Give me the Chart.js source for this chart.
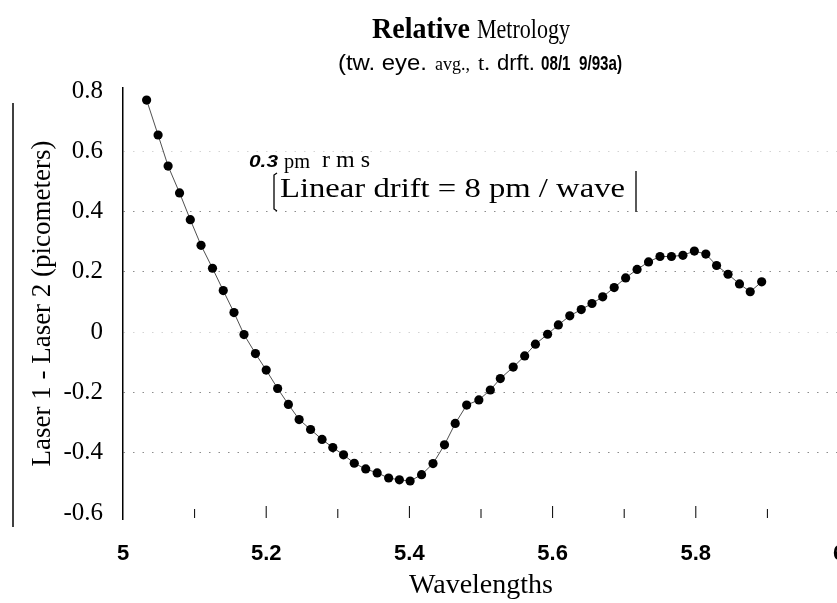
<!DOCTYPE html>
<html>
<head>
<meta charset="utf-8">
<title>Relative Metrology</title>
<script src="https://cdn.jsdelivr.net/npm/chart.js@4.4.0/dist/chart.umd.min.js"></script>
<style>
  html, body { margin: 0; padding: 0; background: #fff; overflow: hidden; }
  #wrap { position: absolute; left: 0; top: 0; width: 845px; height: 603px; }
</style>
</head>
<body>
<div id="wrap"><canvas id="chart"></canvas></div>
<script>
// wavelengths (x) and Laser 1 - Laser 2 difference in picometers (y)
var wavelengths = [
  5.033, 5.049, 5.063, 5.079, 5.094, 5.109, 5.125, 5.140, 5.155, 5.169,
  5.185, 5.200, 5.216, 5.231, 5.246, 5.262, 5.278, 5.293, 5.308, 5.323,
  5.339, 5.355, 5.371, 5.386, 5.401, 5.417, 5.433, 5.449, 5.464, 5.480,
  5.497, 5.513, 5.527, 5.545, 5.561, 5.576, 5.593, 5.608, 5.624, 5.640,
  5.655, 5.670, 5.686, 5.702, 5.718, 5.734, 5.750, 5.766, 5.782, 5.798,
  5.814, 5.829, 5.845, 5.861, 5.876, 5.892
];
var laserDiff = [
  0.770, 0.654, 0.551, 0.462, 0.373, 0.288, 0.212, 0.138, 0.065, -0.008,
  -0.071, -0.126, -0.187, -0.240, -0.290, -0.323, -0.356, -0.383, -0.407, -0.435,
  -0.454, -0.467, -0.484, -0.490, -0.494, -0.473, -0.436, -0.374, -0.303, -0.242,
  -0.225, -0.192, -0.154, -0.116, -0.079, -0.040, -0.007, 0.024, 0.054, 0.075,
  0.095, 0.117, 0.148, 0.180, 0.208, 0.233, 0.251, 0.251, 0.255, 0.269,
  0.259, 0.221, 0.192, 0.160, 0.134, 0.167
];
var yTickValues = [-0.6, -0.4, -0.2, 0, 0.2, 0.4, 0.6, 0.8];
var yTickLabels = ['-0.6', '-0.4', '-0.2', '0', '0.2', '0.4', '0.6', '0.8'];
var xTickValues = [5, 5.1, 5.2, 5.3, 5.4, 5.5, 5.6, 5.7, 5.8, 5.9, 6];
var xTickLabels = ['5', '', '5.2', '', '5.4', '', '5.6', '', '5.8', '', '6'];

var SERIF = "'Liberation Serif', 'Times New Roman', serif";
var SANS = "'Liberation Sans', Arial, sans-serif";
var NARROW = "'Liberation Sans Narrow', 'Liberation Sans', Arial, sans-serif";

var points = wavelengths.map(function (w, i) { return { x: w, y: laserDiff[i] }; });

// draw a text run squeezed/stretched to the width it has in the scan
function fitText(ctx, text, font, x, y, w) {
  ctx.save();
  ctx.font = font;
  ctx.textBaseline = 'middle';
  ctx.textAlign = 'left';
  var m = ctx.measureText(text).width;
  ctx.translate(x, y);
  ctx.scale(w / m, 1);
  ctx.fillStyle = '#000';
  ctx.fillText(text, 0, 0);
  ctx.restore();
}

var decorations = {
  id: 'decorations',
  afterDraw: function (chart) {
    var ctx = chart.ctx;
    var xs = chart.scales.x;
    var area = chart.chartArea;

    /* titles */
    fitText(ctx, 'Relative', 'bold 30px ' + SERIF, 372, 30, 98);
    fitText(ctx, 'Metrology', '27px ' + SERIF, 477, 31, 93);

    fitText(ctx, '(tw. eye.', '22px ' + SANS, 338, 64, 89);
    fitText(ctx, 'avg.,', '18px ' + SERIF, 435, 65, 35);
    fitText(ctx, 't.', '21px ' + SERIF, 478, 64, 12);
    fitText(ctx, 'drft.', '22px ' + SANS, 497, 64, 38);
    fitText(ctx, '08/1  9/93a)', 'bold 21px ' + NARROW, 541, 64, 81);

    /* annotations */
    fitText(ctx, '0.3', 'italic bold 16px ' + SANS, 249, 163, 29);
    fitText(ctx, 'pm', '20px ' + SERIF, 284, 163, 26);
    fitText(ctx, 'r m s', '23px ' + SERIF, 322, 161, 48);
    fitText(ctx, 'Linear drift = 8 pm / wave', '28px ' + SERIF, 280, 190, 345);

    ctx.save();
    ctx.strokeStyle = '#000';
    ctx.lineWidth = 1.3;
    ctx.beginPath();
    ctx.moveTo(277, 173); ctx.lineTo(274, 175); ctx.lineTo(274, 209); ctx.lineTo(277, 211);
    ctx.moveTo(636, 171); ctx.lineTo(636, 212);
    ctx.stroke();

    /* stray frame line at the far left of the scan */
    ctx.lineWidth = 1.5;
    ctx.beginPath();
    ctx.moveTo(13, 103); ctx.lineTo(13, 527);
    ctx.stroke();

    /* x tick marks straddling the bottom edge */
    ctx.lineWidth = 1;
    xs.ticks.forEach(function (t, i) {
      var px = xs.getPixelForValue(t.value);
      if (px > area.right + 1 || i === 0) return;
      var major = xTickLabels[i] !== '';
      ctx.beginPath();
      ctx.moveTo(px, area.bottom - (major ? 13 : 10));
      ctx.lineTo(px, area.bottom - 1);
      ctx.stroke();
    });
    ctx.restore();
  }
};

new Chart(document.getElementById('chart'), {
  type: 'scatter',
  data: {
    datasets: [{
      data: points,
      showLine: true,
      borderColor: '#222',
      borderWidth: 0.8,
      pointRadius: 4.6,
      pointHoverRadius: 4.6,
      pointBackgroundColor: '#000',
      pointBorderColor: '#000',
      pointBorderWidth: 0
    }]
  },
  options: {
    responsive: true,
    maintainAspectRatio: false,
    animation: false,
    layout: { padding: { left: 0, top: 88, right: 6, bottom: 0 } },
    plugins: { legend: { display: false }, tooltip: { enabled: false } },
    scales: {
      x: {
        type: 'linear',
        min: 5, max: 6,
        afterBuildTicks: function (s) { s.ticks = xTickValues.map(function (v) { return { value: v }; }); },
        afterFit: function (s) { s.height = 84; s.paddingLeft = 0; s.paddingRight = 0; },
        grid: { display: false, drawTicks: false },
        border: { display: false },
        ticks: {
          autoSkip: false, maxRotation: 0, padding: 22, color: '#000',
          font: { family: NARROW, size: 22, weight: 'bold' },
          callback: function (v, i) { return xTickLabels[i]; }
        },
        title: {
          display: true, text: 'Wavelengths', color: '#000',
          font: { family: SERIF, size: 28 },
          padding: { top: 0, bottom: 1 }
        }
      },
      y: {
        min: -0.62, max: 0.81,
        afterBuildTicks: function (s) { s.ticks = yTickValues.map(function (v) { return { value: v }; }); },
        afterFit: function (s) { s.width = 123; },
        grid: {
          drawTicks: false,
          lineWidth: 1,
          color: function (c) {
            var v = c.tick ? c.tick.value : null;
            if (v === 0.8 || v === -0.6) return 'rgba(0,0,0,0)';
            if (v === 0.6 || v === 0) return '#d4d4d4';
            return '#8c8c8c';
          }
        },
        border: { display: true, color: '#000', width: 1.5, dash: [1.5, 8] },
        ticks: {
          padding: 20, color: '#000',
          font: { family: SERIF, size: 25 },
          callback: function (v, i) { return yTickLabels[i]; }
        },
        title: {
          display: true, text: 'Laser 1 - Laser 2 (picometers)', color: '#000',
          font: { family: SERIF, size: 27 },
          padding: { top: 27, bottom: 0 }
        }
      }
    }
  },
  plugins: [decorations]
});
</script>
</body>
</html>
